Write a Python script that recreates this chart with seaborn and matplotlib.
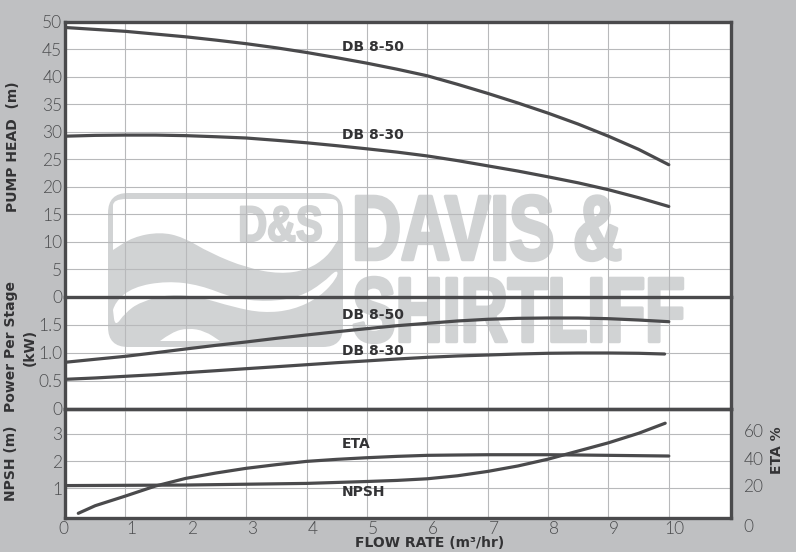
#!/usr/bin/env python3
# Pump performance chart: head, power per stage, NPSH and ETA against flow rate

import matplotlib
matplotlib.use("Agg")
import matplotlib.pyplot as plt
import seaborn as sns
from matplotlib.patches import FancyBboxPatch, PathPatch
from matplotlib.patheffects import AbstractPathEffect
from matplotlib.path import Path
from matplotlib.transforms import Affine2D, ScaledTranslation

flow = [0, 0.5, 1, 1.5, 2, 2.5, 3, 3.5, 4, 4.5, 5, 5.5, 6, 6.5, 7, 7.5, 8, 8.5, 9, 9.5, 10]
head_db850 = [49.0, 48.65, 48.3, 47.8, 47.3, 46.7, 46.05, 45.3, 44.45, 43.5, 42.5,
              41.4, 40.2, 38.65, 37.0, 35.25, 33.4, 31.4, 29.2, 26.8, 24.0]
head_db830 = [29.2, 29.35, 29.4, 29.4, 29.3, 29.1, 28.87, 28.45, 28.0, 27.47, 26.9,
              26.3, 25.6, 24.75, 23.8, 22.85, 21.8, 20.7, 19.45, 18.0, 16.4]
power_db850 = [0.825, 0.879, 0.932, 0.996, 1.063, 1.128, 1.188, 1.253, 1.313, 1.371, 1.426,
               1.479, 1.521, 1.563, 1.593, 1.61, 1.616, 1.616, 1.604, 1.58, 1.55]
power_flow_db830 = [0, 0.5, 1, 1.5, 2, 2.5, 3, 3.5, 4, 4.5, 5, 5.5, 6, 6.5, 7, 7.5, 8, 8.5, 9, 9.5, 9.93]
power_db830 = [0.521, 0.545, 0.575, 0.604, 0.64, 0.675, 0.711, 0.746, 0.782, 0.818, 0.85,
               0.884, 0.914, 0.938, 0.955, 0.973, 0.986, 0.991, 0.991, 0.986, 0.973]
npsh_flow = [0, 1, 2, 3, 4, 5, 5.5, 6, 6.5, 7, 7.5, 8, 8.5, 9, 9.5, 9.94]
npsh = [1.10, 1.11, 1.12, 1.15, 1.18, 1.25, 1.29, 1.35, 1.46, 1.62, 1.82, 2.07, 2.37, 2.67, 3.02, 3.39]
eta_flow = [0.22, 0.5, 1, 1.5, 2, 2.5, 3, 3.5, 4, 4.5, 5, 5.5, 6, 6.5, 7, 7.5, 8, 8.5, 9, 9.5, 10]
eta = [1.6, 7.2, 14.3, 21.7, 27.3, 31.25, 34.7, 37.4, 39.8, 41.3, 42.5,
       43.5, 44.25, 44.5, 44.7, 44.7, 44.7, 44.5, 44.25, 44.0, 43.75]

head_ticks = [0, 5, 10, 15, 20, 25, 30, 35, 40, 45, 50]
power_ticks = [0, 0.5, 1.0, 1.5]
power_tick_labels = ["0", "0.5", "1.0", "1.5"]
npsh_ticks = [1, 2, 3]
eta_ticks = [0, 20, 40, 60]
flow_ticks = [0, 1, 2, 3, 4, 5, 6, 7, 8, 9, 10]

W, H = 796, 552
LEFT, RIGHT = 65, 731
BG = "#bfc0c2"
DARK = "#4a4a4c"
INK = "#333335"
SOFT = "#4d4e50"
GRID = "#b8b9bb"
LOGO = "#d1d3d4"
BOLD = ["DejaVu Sans"]
THIN = ["Lato"]

sns.set_theme(style="white")
plt.rcParams["font.family"] = THIN
plt.rcParams["font.weight"] = 300


# squeezes a text sideways around a fixed pixel column and thickens it a little
class Condense(AbstractPathEffect):
    def __init__(self, anchor, factor, stroke):
        super().__init__()
        self.anchor = anchor
        self.factor = factor
        self.stroke = stroke

    def draw_path(self, renderer, gc, tpath, affine, rgbFace=None):
        squeeze = Affine2D().translate(-self.anchor, 0).scale(self.factor, 1).translate(self.anchor, 0)
        gc0 = renderer.new_gc()
        gc0.copy_properties(gc)
        gc0.set_linewidth(self.stroke)
        gc0.set_foreground(LOGO)
        renderer.draw_path(gc0, tpath, affine + squeeze, rgbFace)
        gc0.restore()


# axes from reference pixel rows
def panel(top, bottom, zorder=1):
    ax = fig.add_axes([LEFT / W, 1 - bottom / H, (RIGHT - LEFT) / W, (bottom - top) / H], zorder=zorder)
    ax.patch.set_visible(False)
    ax.set_xlim(0, 11.03)
    ax.set_xticks(flow_ticks)
    ax.grid(True, color=GRID, linewidth=0.8)
    ax.set_axisbelow(True)
    ax.tick_params(length=0, labelsize=12.5, labelcolor=SOFT, pad=2)
    for spine in ax.spines.values():
        spine.set_color(DARK)
        spine.set_linewidth(2.4)
    return ax


def shift(label, dx, dy):
    label.set_transform(label.get_transform() + ScaledTranslation(dx / 100, -dy / 100, fig.dpi_scale_trans))


# quadratic smoothing through the midpoints of a list of points
def smooth_path(points):
    verts = [points[0]]
    codes = [Path.MOVETO]
    for i in range(1, len(points) - 1):
        mid = ((points[i][0] + points[i + 1][0]) / 2, (points[i][1] + points[i + 1][1]) / 2)
        verts += [points[i], mid]
        codes += [Path.CURVE3, Path.CURVE3]
    verts.append(points[-1])
    codes.append(Path.LINETO)
    verts.append(points[0])
    codes.append(Path.CLOSEPOLY)
    return Path(verts, codes)


def logo_text(ax, x, y, text, size, factor, stroke):
    # the anchor is a pixel column of the saved picture, ax_bg runs in those same pixels
    ax.text(x, y, text, family="Liberation Sans", weight="bold", fontsize=size, color=LOGO, ha="center",
            va="center_baseline", zorder=3, path_effects=[Condense(x, factor, stroke)])


def watermark(ax):
    ax.add_patch(FancyBboxPatch((128, 213), 195, 114, boxstyle="round,pad=20,rounding_size=20",
                                fc=LOGO, ec="none", zorder=1))
    sky = [(113, 250), (113, 250), (133, 237), (160, 232), (183, 237), (210, 253), (247, 268), (280, 274),
           (307, 270), (327, 257), (338, 240), (338, 240), (338, 212), (338, 199), (325, 199), (140, 199),
           (113, 199), (113, 212), (113, 250)]
    band = [(113, 310), (115, 302), (133, 287), (167, 281), (200, 285), (233, 298), (267, 302), (300, 297),
            (323, 283), (337, 269), (338, 277), (320, 297), (293, 310), (263, 313), (233, 307), (200, 297),
            (170, 294), (140, 302), (125, 313), (115, 327), (113, 310)]
    dune = [(160, 341), (172, 332), (188, 328), (205, 331), (220, 341), (220, 341), (160, 341)]
    for shape in (sky, band, dune):
        ax.add_patch(PathPatch(smooth_path(shape), fc="white", ec="none", zorder=2))
    logo_text(ax, 280.5, 223, "D&S", 36, 0.8, 1.5)
    logo_text(ax, 487, 226, "DAVIS &", 66, 0.74, 2.5)
    logo_text(ax, 518.5, 308, "SHIRTLIFF", 66, 0.71, 2.5)


fig = plt.figure(figsize=(W / 100, H / 100), dpi=100, facecolor=BG)

# white plot area carrying the logo, behind the grid
ax_bg = fig.add_axes([LEFT / W, 1 - 518 / H, (RIGHT - LEFT) / W, (518 - 22) / H], zorder=0)
ax_bg.set_xlim(LEFT, RIGHT)
ax_bg.set_ylim(518, 22)
ax_bg.set_facecolor("white")
ax_bg.set_xticks([])
ax_bg.set_yticks([])
ax_bg.grid(False)
for spine in ax_bg.spines.values():
    spine.set_visible(False)
watermark(ax_bg)

ax_head = panel(22, 296.5)
ax_power = panel(296.5, 408.5)
ax_npsh = panel(408.5, 518)

line_kw = dict(color=DARK, linewidth=2.3, errorbar=None, legend=False)

# Pump head
sns.lineplot(x=flow, y=head_db850, ax=ax_head, **line_kw)
sns.lineplot(x=flow, y=head_db830, ax=ax_head, **line_kw)
ax_head.set_ylim(0, 50)
ax_head.set_yticks(head_ticks)
ax_head.tick_params(labelbottom=False)
ax_head.spines["bottom"].set_visible(False)

# Power per stage
sns.lineplot(x=flow, y=power_db850, ax=ax_power, **line_kw)
sns.lineplot(x=power_flow_db830, y=power_db830, ax=ax_power, **line_kw)
ax_power.set_ylim(0, 2)
ax_power.set_yticks(power_ticks)
ax_power.set_yticklabels(power_tick_labels)
ax_power.tick_params(labelbottom=False)

# NPSH and ETA
sns.lineplot(x=npsh_flow, y=npsh, ax=ax_npsh, **line_kw)
ax_npsh.set_ylim(-0.09, 3.93)
ax_npsh.set_yticks(npsh_ticks)
ax_npsh.set_xticks(flow_ticks)
ax_npsh.tick_params(axis="x", pad=2)

ax_eta = ax_npsh.twinx()
ax_eta.patch.set_visible(False)
sns.lineplot(x=eta_flow, y=eta, ax=ax_eta, **line_kw)
ax_eta.set_ylim(-1.84, 78.7)
ax_eta.set_yticks(eta_ticks)
ax_eta.grid(False)
ax_eta.tick_params(length=0, labelsize=12.5, labelcolor=SOFT, pad=9)
for spine in ax_eta.spines.values():
    spine.set_visible(False)

for ax in (ax_head, ax_power, ax_npsh, ax_eta):
    ax.set_xlabel("")
    ax.set_ylabel("")

# tick labels sit off their grid lines in the original
for i, label in enumerate(ax_npsh.get_xticklabels()):
    shift(label, -2 if i == 0 else 6, 0)
for i, label in enumerate(ax_eta.get_yticklabels()):
    shift(label, 0, 10 if i == 0 else -3)

label_kw = dict(family=BOLD, weight="bold", fontsize=10, color=INK, va="center", ha="left")
ax_head.text(4.59, 45.4, "DB 8-50", **label_kw)
ax_head.text(4.59, 29.4, "DB 8-30", **label_kw)
ax_power.text(4.59, 1.67, "DB 8-50", **label_kw)
ax_power.text(4.59, 1.03, "DB 8-30", **label_kw)
ax_npsh.text(4.59, 2.63, "ETA", **label_kw)
ax_npsh.text(4.59, 0.86, "NPSH", **label_kw)

side_kw = dict(family=BOLD, weight="bold", fontsize=10, color=INK, rotation=90, ha="center", va="center")
fig.text(13 / W, 1 - 147 / H, "PUMP HEAD  (m)", **side_kw)
fig.text(11 / W, 1 - 347 / H, "Power Per Stage", **side_kw)
fig.text(30 / W, 1 - 347 / H, "(kW)", **side_kw)
fig.text(11 / W, 1 - 463 / H, "NPSH (m)", **side_kw)
fig.text(777 / W, 1 - 450 / H, "ETA %", **side_kw)
fig.text(430 / W, 1 - 543 / H, "FLOW RATE (m³/hr)", family=BOLD, weight="bold", fontsize=10, color=INK,
         ha="center", va="center")

fig.savefig("out.png", dpi=100, facecolor=BG)
